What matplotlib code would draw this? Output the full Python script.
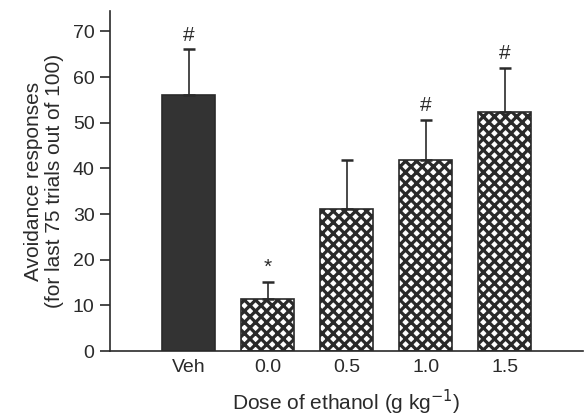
import numpy as np
import matplotlib.pyplot as plt

plt.rcParams['font.family'] = ['Liberation Sans', 'DejaVu Sans']
plt.rcParams['hatch.linewidth'] = 2.3

groups = ['Veh', '0.0', '0.5', '1.0', '1.5']
means = [56.1, 11.5, 31.1, 41.9, 52.4]
sems = [10.0, 3.7, 10.7, 8.8, 9.6]
marks = ['#', '*', '', '#', '#']

fig = plt.figure(figsize=(5.87, 4.18), dpi=100)
ax = fig.add_axes([0.187, 0.160, 0.806, 0.813])

x = np.arange(len(groups))
ink = '#2a2a2a'
for i in x:
    if i == 0:
        ax.bar(i, means[i], width=0.67, color='#333333', edgecolor=ink, lw=1.2, zorder=2)
    else:
        ax.bar(i, means[i], width=0.67, color='white', edgecolor=ink, hatch='xxx',
               lw=1.2, zorder=2)
    ax.errorbar(i, means[i], yerr=[[0], [sems[i]]], fmt='none', ecolor=ink,
                elinewidth=1.2, capsize=4, capthick=1.8, zorder=3)
    if marks[i]:
        ax.text(i, means[i] + sems[i] + 1.0, marks[i], ha='center', va='bottom',
                fontsize=15, color=ink)

ax.set_xlim(-1, 4.99)
ax.set_ylim(0, 74.4)
ax.set_yticks(range(0, 71, 10))
ax.set_xticks(x)
ax.set_xticklabels(groups)
ax.tick_params(axis='x', length=0, pad=6, labelsize=14, colors=ink)
ax.tick_params(axis='y', length=7, width=1.2, pad=4, labelsize=14, colors=ink)
for s in ['top', 'right']:
    ax.spines[s].set_visible(False)
for s in ['left', 'bottom']:
    ax.spines[s].set_linewidth(1.2)
    ax.spines[s].set_color(ink)

ax.set_ylabel('Avoidance responses\n(for last 75 trials out of 100)', fontsize=15,
              color=ink, labelpad=6, linespacing=1.15)
ax.set_xlabel('Dose of ethanol (g kg$^{-1}$)', fontsize=15, color=ink, labelpad=8)

fig.savefig('out.png', dpi=100)
